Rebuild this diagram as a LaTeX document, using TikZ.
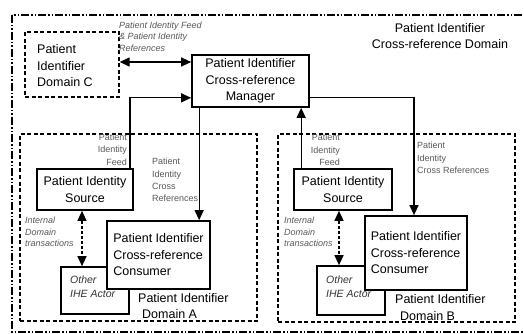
\documentclass[tikz,border=0pt]{standalone}
\usepackage{fontspec}
\setmainfont{Liberation Sans}
\usetikzlibrary{arrows.meta}
\begin{document}
\begin{tikzpicture}[x=1pt,y=-1pt,
  box/.style={draw,line width=1.7pt,fill=white,inner sep=0pt},
  dombox/.style={draw,line width=1.3pt,dash pattern=on 4pt off 2.5pt},
  big/.style={font=\fontsize{12.5}{16.5}\selectfont,inner sep=0pt},
  small/.style={font=\fontsize{9}{12.3}\selectfont,text=black!65,inner sep=0pt},
  ital/.style={font=\fontsize{9}{11.5}\selectfont\itshape,text=black!65,inner sep=0pt},
  oth/.style={font=\fontsize{10.5}{14}\selectfont\itshape,text=black!80,inner sep=0pt},
  tip/.tip={Triangle[length=10pt,width=9pt]},
  arr/.style={line width=1.3pt,-tip},
  darr/.style={line width=1.3pt,tip-tip},
  ddarr/.style={line width=1.3pt,dash pattern=on 3pt off 2pt,tip-tip},
]
\useasboundingbox (0,0) rectangle (524,334);
\fill[white] (0,0) rectangle (524,334);

% outer cross-reference domain
\draw[line width=1.8pt,dash pattern=on 8pt off 2pt on 1.5pt off 2pt on 1.5pt off 2pt]
  (12,15) rectangle (545,332);
\node[big,align=center] (xdom) at (440,36) {Patient Identifier\\Cross-reference Domain};

% domain C
\node[dombox,minimum width=94pt,minimum height=65pt,inner sep=0pt] (domC) at (72,64.5) {};
\node[big,align=left,anchor=west] (domCt) at (37,66) {Patient\\Identifier\\Domain C};

% domain A and B boxes
\node[dombox,minimum width=237pt,minimum height=187pt,inner sep=0pt] (domA) at (138.5,227.5) {};
\node[dombox,minimum width=237pt,minimum height=188pt,inner sep=0pt] (domB) at (396.5,228) {};

% manager
\node[box,big,align=center,minimum width=117pt,minimum height=52pt] (mgr) at (250.5,81)
  {Patient Identifier\\Cross-reference\\Manager};

% domain A actors
\node[box,big,align=center,minimum width=96pt,minimum height=41pt] (srcA) at (85,189.5)
  {Patient Identity\\Source};
\node[box,minimum width=68pt,minimum height=47pt] (othA) at (95,290.5) {};
\node[oth,align=left,anchor=west] (othAt) at (70,287) {Other\\IHE Actor};
\node[box,big,align=left,minimum width=103pt,minimum height=68pt] (consA) at (158.5,255)
  {Patient Identifier\\Cross-reference\\Consumer};
\node[big,align=left,anchor=west] (domAt) at (138,306) {Patient Identifier\\\hspace*{4pt}Domain A};

% domain B actors
\node[box,big,align=center,minimum width=98pt,minimum height=41pt] (srcB) at (343,189.5)
  {Patient Identity\\Source};
\node[box,minimum width=68pt,minimum height=49pt] (othB) at (351,290.5) {};
\node[oth,align=left,anchor=west] (othBt) at (326,287) {Other\\IHE Actor};
\node[box,big,align=left,minimum width=102pt,minimum height=74pt] (consB) at (416,253)
  {Patient Identifier\\Cross-reference\\Consumer};
\node[big,align=left,anchor=west] (domBt) at (395,307.5) {Patient Identifier\\\hspace*{5pt}Domain B};

% connectors
\draw[darr] ([yshift=2.5pt]domC.east) -- ([yshift=2.5pt]domC.east -| mgr.west);
\draw[arr] ([xshift=-4pt]srcA.north east) |- ([yshift=10pt]mgr.south west);
\draw[arr] ([xshift=8pt]mgr.south west) -- ([xshift=8pt]mgr.south west |- consA.north);
\draw[arr] ([xshift=8pt]srcB.north west) -- ([xshift=8pt]srcB.north west |- mgr.south);
\draw[arr] ([yshift=10pt]mgr.south east) -| ([xshift=-2pt]consB.north);
\draw[ddarr] ([xshift=-3pt]srcA.south) -- ([xshift=-3pt]srcA.south |- othA.north);
\draw[ddarr] ([xshift=-4pt]srcB.south) -- ([xshift=-4pt]srcB.south |- othB.north);

% labels
\node[ital,align=left,anchor=west] (lblC) at (119,36.5) {Patient Identity Feed\\\& Patient Identity\\References};
\node[small,align=right,anchor=east] (lblAf) at (127,149.5) {Patient\\Identity\\Feed};
\node[small,align=left,anchor=west] (lblAx) at (152,180) {Patient\\Identity\\Cross\\References};
\node[small,align=right,anchor=east] (lblBf) at (340,150) {Patient\\Identity\\Feed};
\node[small,align=left,anchor=west] (lblBx) at (417,158) {Patient\\Identity\\Cross References};
\node[ital,align=left,anchor=west] (lblAi) at (25,232) {Internal\\Domain\\transactions};
\node[ital,align=left,anchor=west] (lblBi) at (284,232) {Internal\\Domain\\transactions};
\end{tikzpicture}
\end{document}
